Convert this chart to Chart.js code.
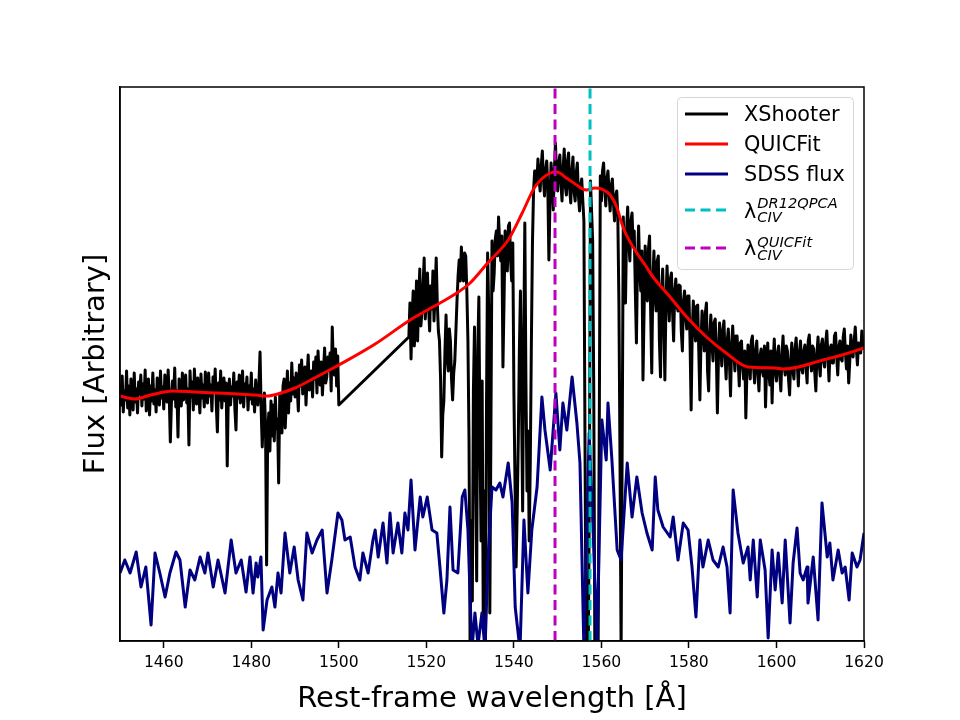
<!DOCTYPE html>
<html><head><meta charset="utf-8">
<script src="https://cdn.jsdelivr.net/npm/chart.js@4.4.1/dist/chart.umd.min.js"></script>
<style>html,body{margin:0;padding:0;background:#fff;}canvas{display:block;}</style>
</head><body>
<canvas id="c" width="960" height="720"></canvas>
<script>
// ---------------- DATA ----------------
const xTickValues = [1460, 1480, 1500, 1520, 1540, 1560, 1580, 1600, 1620];
const yRange = [0, 554];                     // arbitrary flux units

// XShooter spectrum, two segments sampled every 0.25 Å (gap 1500-1516)
const xshooterStep = 0.25;
const xshooterStartA = 1450;
const xshooterFluxA = [
  258,236,265,229,250,241,270,233,255,226,262,244,231,268,239,252,228,259,247,266,
  235,257,242,271,230,249,262,226,255,240,268,237,251,229,263,245,236,270,243,254,
  232,266,248,239,271,245,199,238,260,242,273,234,250,204,262,246,235,268,241,257,
  266,238,252,196,270,244,259,231,272,248,237,263,250,228,267,243,256,234,269,247,
  238,268,245,256,230,264,249,272,236,209,258,241,270,233,252,263,240,258,175,246,
  262,236,254,245,268,232,211,259,243,266,238,252,270,234,257,246,264,231,255,242,
  268,237,252,229,261,244,236,258,289,232,194,226,248,215,76,210,228,190,240,205,
  236,200,244,212,222,158,246,230,208,255,262,213,240,270,228,258,240,278,247,263,
  244,268,252,230,276,255,281,247,262,274,236,265,286,251,258,270,244,279,262,284,
  248,290,265,256,279,246,270,293,258,264,284,272,288,250,314,276,266,292,255,285,
  236
];
const xshooterStartB = 1516;
const xshooterFluxB = [
  304,338,282,326,350,295,318,360,300,342,372,315,330,356,383,322,345,368,335,310,
  355,332,370,320,348,383,338,310,300,262,184,226,240,290,326,285,270,312,300,262,
  241,268,280,310,340,365,381,360,394,372,360,388,385,350,300,200,-10,120,40,250,
  314,180,60,290,344,200,100,260,21,150,-10,240,388,330,28,210,400,350,368,402,
  410,385,424,398,380,405,274,340,410,392,370,415,418,380,360,398,250,160,74,130,
  200,290,350,240,130,300,418,260,150,210,100,180,300,400,451,470,470,458,482,462,
  450,475,490,462,445,470,480,455,381,440,478,460,431,470,498,465,450,478,486,458,
  440,472,492,455,446,480,488,452,438,470,484,450,440,468,478,445,430,455,462,440,
  420,200,-10,-10,-10,150,460,430,400,250,-10,-10,-10,-10,200,465,440,470,478,452,
  435,462,470,448,430,455,462,438,420,445,450,425,338,180,-10,200,424,380,338,410,
  434,400,380,420,428,395,410,350,298,380,415,370,350,390,261,330,395,360,340,392,
  405,330,268,360,390,345,330,380,385,300,264,350,372,320,261,340,375,345,320,362,
  368,330,300,350,362,335,330,356,355,310,290,340,350,325,312,345,345,300,231,310,
  340,315,300,335,336,290,241,300,330,312,290,328,338,270,250,305,326,298,280,318,
  322,290,228,285,318,300,275,310,320,285,262,300,312,280,245,295,315,290,270,305,
  305,280,255,298,300,275,262,290,223,270,296,280,262,300,305,275,258,290,300,268,
  250,285,292,270,265,295,234,275,298,268,256,290,238,280,302,270,260,288,295,266,
  250,285,305,275,266,295,290,262,246,280,298,270,262,292,303,278,255,288,300,272,
  268,290,296,275,258,300,306,280,270,295,292,268,250,288,304,278,265,296,302,280,
  274,298,310,285,260,292,296,278,278,305,308,285,266,294,300,282,280,304,312,288,
  272,295,258,280,306,290,284,300,314,292,276,298,295,288,310,296,292
];

// QUICFit model
const quicfitWave = [1450,1453.4,1457,1462,1467,1472,1477,1481,1483.5,1486,1490,1494,1500,1508.3,1516.3,1523.1,1526.6,1530,1534,1538.7,1541.9,1544.8,1548.3,1549.8,1552,1554,1556.5,1558.5,1560,1562,1563.5,1564.4,1565.5,1568.1,1570,1571.8,1575.7,1579.5,1584,1588.5,1593.5,1599.7,1601.5,1605,1610.6,1615,1620];
const quicfitFlux = [245,242,246,250,249,248,247,246,245,247,253,262,276,297,321,338,347,358,378,401,428,454,468,469,463,457,451,453,452,446,434,421,408,388,376,364,344,324,304,288,274,273,272,274,281,286,293];

// SDSS flux
const sdssWave = [
  1450.0,1451.1,1452.3,1453.7,1454.8,1455.9,1457.1,1458.0,1459.1,1460.3,
  1461.4,1462.8,1463.7,1464.9,1466.0,1467.1,1468.3,1469.4,1470.1,1471.3,
  1472.4,1474.0,1475.4,1476.5,1477.7,1478.8,1479.7,1480.4,1481.1,1481.5,
  1482.2,1482.7,1483.6,1484.7,1485.4,1486.1,1486.8,1487.7,1488.8,1489.8,
  1490.7,1491.8,1492.7,1493.9,1495.0,1496.2,1497.3,1498.4,1499.8,1500.7,
  1501.4,1502.6,1503.7,1504.8,1505.5,1506.7,1507.8,1508.3,1509.0,1510.1,
  1511.0,1511.7,1512.4,1513.5,1514.4,1515.1,1515.8,1516.5,1517.4,1518.6,
  1519.2,1520.2,1521.3,1522.4,1523.1,1524.0,1524.7,1525.4,1526.1,1527.2,
  1528.2,1528.8,1529.5,1530.4,1531.1,1531.8,1532.7,1533.4,1534.1,1535.0,
  1535.9,1536.8,1537.5,1538.7,1539.6,1540.3,1541.4,1542.3,1543.2,1544.1,
  1545.3,1546.4,1547.1,1548.3,1549.6,1550.5,1551.2,1552.1,1553.3,1554.4,
  1555.1,1556.0,1557.2,1558.1,1559.0,1560.1,1561.1,1561.5,1562.4,1563.6,
  1564.5,1565.9,1567.0,1568.1,1569.3,1570.4,1571.6,1572.3,1572.9,1574.1,
  1575.7,1576.4,1577.5,1578.7,1579.8,1580.7,1581.6,1582.5,1583.2,1584.4,
  1585.5,1586.7,1587.8,1588.7,1589.4,1590.1,1591.2,1592.4,1593.5,1594.0,
  1594.7,1595.6,1596.3,1597.4,1598.1,1599.0,1599.7,1600.4,1601.3,1602.0,
  1603.1,1603.8,1604.7,1605.4,1606.1,1607.0,1607.2,1608.4,1609.5,1610.4,
  1611.6,1612.2,1612.9,1614.1,1615.0,1615.7,1616.6,1617.3,1618.4,1619.1,
  1620.0
];
const sdssFlux = [
  68,81,68,89,54,74,16,88,68,44,
  68,89,81,34,71,61,84,68,88,54,
  81,48,101,68,81,49,84,48,78,64,
  84,11,41,54,34,68,48,108,68,94,
  61,41,108,88,101,111,48,81,128,121,
  101,104,74,61,88,68,101,111,84,118,
  78,128,88,118,88,128,111,161,91,144,
  124,144,111,108,74,28,61,134,71,68,
  144,151,111,-9,28,-4,28,-9,84,154,
  151,158,144,178,138,34,-9,121,48,111,
  154,244,211,171,248,191,238,211,264,218,
  178,-9,208,111,-4,221,181,238,181,91,
  81,178,124,164,128,108,91,164,131,114,
  104,124,81,118,111,74,24,101,74,101,
  81,74,94,74,28,151,108,78,94,61,
  101,44,101,71,3,91,51,88,38,101,
  18,78,113,68,61,74,38,84,21,138,
  84,98,61,91,68,74,41,88,74,81,
  108
];

// CIV line centres
const lambdaDR12QPCA = 1557.4;
const lambdaQUICFit = 1549.4;

const legendEntries = [
  {text: 'XShooter'},
  {text: 'QUICFit'},
  {text: 'SDSS flux'},
  {text: 'λ', sup: 'DR12QPCA', sub: 'CIV'},
  {text: 'λ', sup: 'QUICFit', sub: 'CIV'}
];

// ---------------- BUILD ----------------
const xsPoints = [];
xshooterFluxA.forEach((v, i) => xsPoints.push({x: xshooterStartA + i * xshooterStep, y: v}));
xshooterFluxB.forEach((v, i) => xsPoints.push({x: xshooterStartB + i * xshooterStep, y: v}));
const qfPoints = quicfitWave.map((w, i) => ({x: w, y: quicfitFlux[i]}));
const sdPoints = sdssWave.map((w, i) => ({x: w, y: sdssFlux[i]}));
const vline = (l) => [{x: l, y: yRange[0]}, {x: l, y: yRange[1]}];

const COLORS = ['#000000', '#ff0000', '#000080', '#00bfbf', '#bf00bf'];
const DASH = [10, 5.5];
const FONT = 'DejaVu Sans';

const framePlugin = {
  id: 'frame',
  afterDraw(chart) {
    const {ctx, chartArea: a} = chart;
    ctx.save();
    ctx.strokeStyle = '#000';
    ctx.lineWidth = 1.5;
    ctx.strokeRect(a.left, a.top, a.right - a.left, a.bottom - a.top);
    ctx.restore();
  }
};

const legendPlugin = {
  id: 'mplLegend',
  afterDraw(chart) {
    const {ctx, chartArea: a} = chart;
    const w = 176, h = 172;
    const bx = a.right - 11 - w, by = a.top + 10;
    ctx.save();
    ctx.beginPath();
    if (ctx.roundRect) ctx.roundRect(bx + 0.5, by + 0.5, w, h, 4); else ctx.rect(bx + 0.5, by + 0.5, w, h);
    ctx.fillStyle = 'rgba(255,255,255,0.85)';
    ctx.fill();
    ctx.strokeStyle = '#d6d6d6';
    ctx.lineWidth = 1;
    ctx.stroke();
    const lineY = [17, 47, 77, 113, 151];
    const baseY = [24, 54, 84, 121, 158];
    const supY = [0, 0, 0, 111, 150];
    const subY = [0, 0, 0, 125, 163];
    legendEntries.forEach((e, i) => {
      ctx.beginPath();
      ctx.strokeStyle = COLORS[i];
      ctx.lineWidth = 3;
      ctx.setLineDash(i >= 3 ? DASH : []);
      ctx.moveTo(bx + 8, by + lineY[i]);
      ctx.lineTo(bx + 51, by + lineY[i]);
      ctx.stroke();
      ctx.setLineDash([]);
      ctx.fillStyle = '#000';
      ctx.textBaseline = 'alphabetic';
      ctx.textAlign = 'left';
      ctx.font = '20.8px "' + FONT + '"';
      const tx = bx + 67;
      ctx.fillText(e.text, tx, by + baseY[i]);
      if (e.sup) {
        const sx = tx + ctx.measureText(e.text).width + 1;
        ctx.font = 'italic 14.6px "' + FONT + '"';
        ctx.fillText(e.sup, sx, by + supY[i]);
        ctx.fillText(e.sub, sx, by + subY[i]);
      }
    });
    ctx.restore();
  }
};

new Chart(document.getElementById('c'), {
  type: 'line',
  data: {
    datasets: [
      {label: 'XShooter', data: xsPoints, borderColor: COLORS[0], borderWidth: 3, order: 5},
      {label: 'QUICFit', data: qfPoints, borderColor: COLORS[1], borderWidth: 3, cubicInterpolationMode: 'monotone', order: 4},
      {label: 'SDSS flux', data: sdPoints, borderColor: COLORS[2], borderWidth: 3, order: 3},
      {label: 'DR12QPCA', data: vline(lambdaDR12QPCA), borderColor: COLORS[3], borderWidth: 3, borderDash: DASH, borderCapStyle: 'butt', order: 2},
      {label: 'QUICFit CIV', data: vline(lambdaQUICFit), borderColor: COLORS[4], borderWidth: 3, borderDash: DASH, borderCapStyle: 'butt', order: 1}
    ]
  },
  options: {
    responsive: false,
    animation: false,
    devicePixelRatio: 1,
    elements: {
      point: {radius: 0, hoverRadius: 0},
      line: {borderJoinStyle: 'round', tension: 0, fill: false}
    },
    datasets: {line: {clip: 0}},
    layout: {padding: {left: 79, right: 96, top: 87, bottom: 0}},
    plugins: {legend: {display: false}, tooltip: {enabled: false}},
    scales: {
      x: {
        type: 'linear', min: 1450, max: 1620,
        afterBuildTicks: (s) => { s.ticks = xTickValues.map(v => ({value: v})); },
        afterFit: (s) => { s.height = 79; },
        ticks: {font: {family: FONT, size: 15.6}, color: '#000', padding: 6, maxRotation: 0, autoSkip: false,
                callback: (v) => String(v)},
        grid: {display: true, drawOnChartArea: false, drawTicks: true, tickLength: 7, tickWidth: 1.5, tickColor: '#000'},
        border: {display: true, color: '#000', width: 1.5},
        title: {display: true, text: 'Rest-frame wavelength [Å]', font: {family: FONT, size: 29}, color: '#000', padding: {top: 0, bottom: 3}}
      },
      y: {
        type: 'linear', min: yRange[0], max: yRange[1],
        afterFit: (s) => { s.width = 41; },
        ticks: {display: false},
        grid: {display: false},
        border: {display: true, color: '#000', width: 1.5},
        title: {display: true, text: 'Flux [Arbitrary]', font: {family: FONT, size: 29}, color: '#000', padding: {top: 0, bottom: 0}}
      }
    }
  },
  plugins: [framePlugin, legendPlugin]
});
</script>
</body></html>
